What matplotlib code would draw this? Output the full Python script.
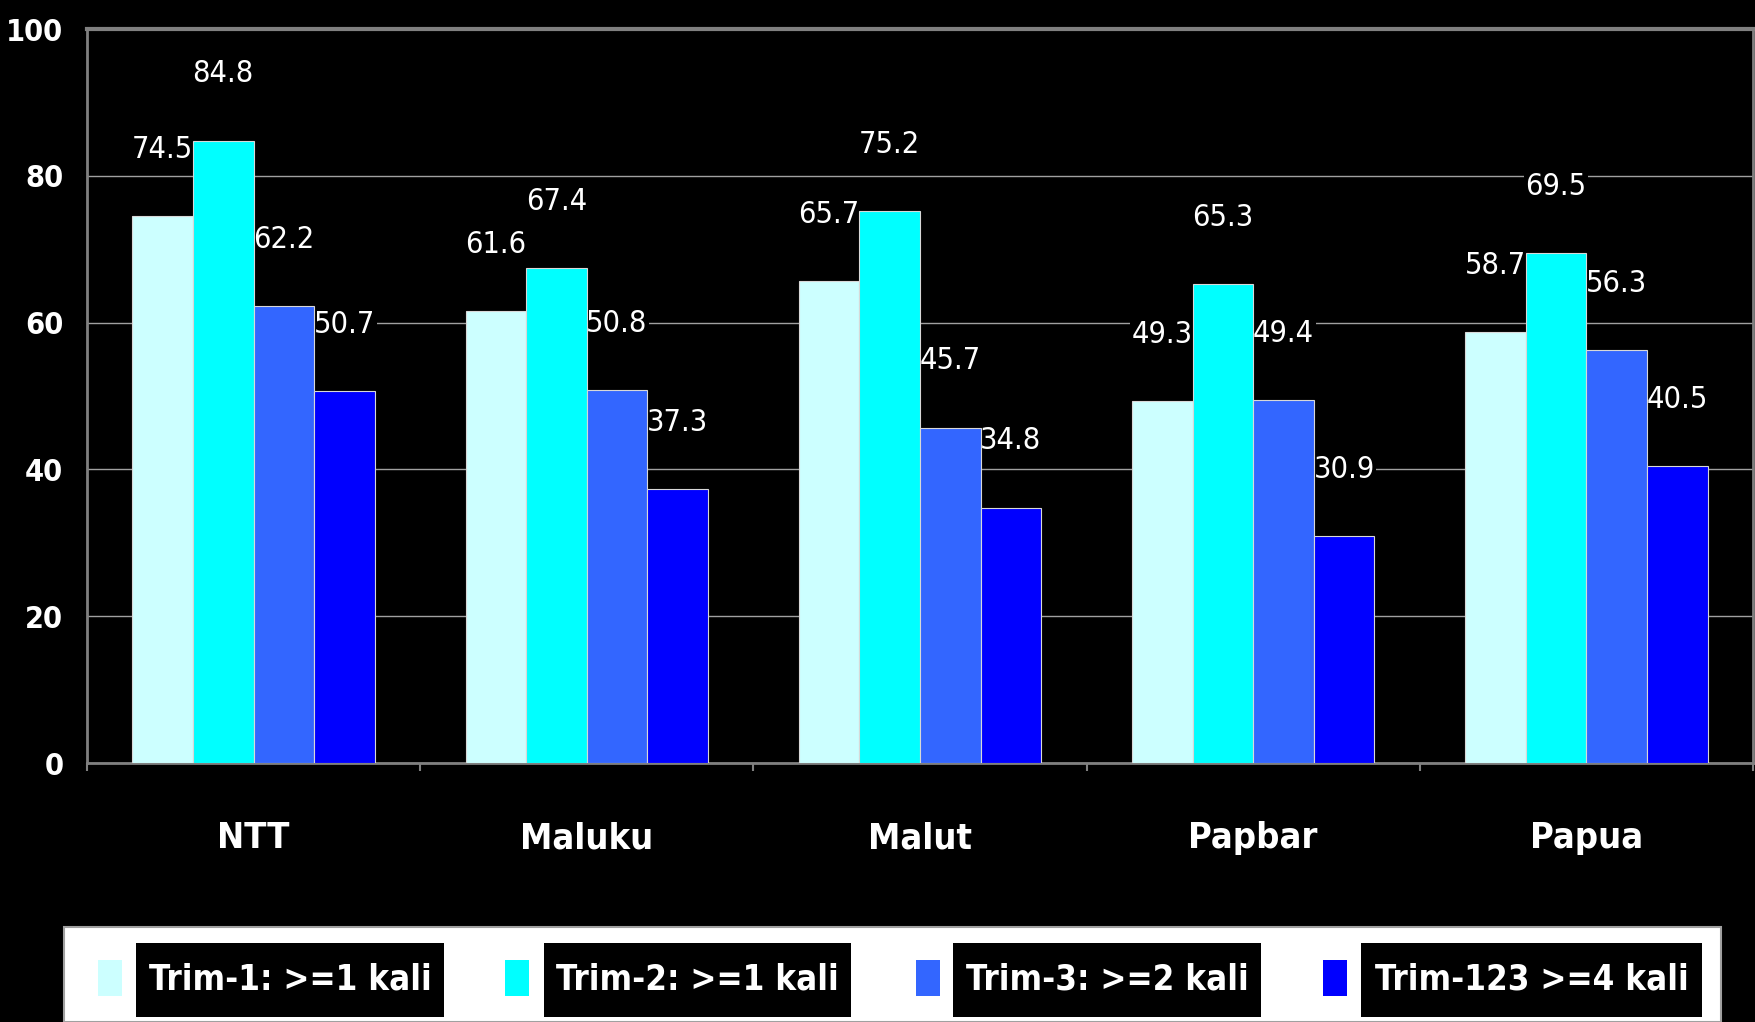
import matplotlib.pyplot as plt
import numpy as np
from matplotlib.patches import Rectangle

# ANC coverage per province (%)
provinces = ['NTT', 'Maluku', 'Malut', 'Papbar', 'Papua']
series_names = ['Trim-1: >=1 kali', 'Trim-2: >=1 kali', 'Trim-3: >=2 kali', 'Trim-123 >=4 kali']
trim1 = [74.5, 61.6, 65.7, 49.3, 58.7]
trim2 = [84.8, 67.4, 75.2, 65.3, 69.5]
trim3 = [62.2, 50.8, 45.7, 49.4, 56.3]
trim123 = [50.7, 37.3, 34.8, 30.9, 40.5]
colors = ['#CCFFFF', '#00FFFF', '#3366FF', '#0000FF']
y_ticks = [0, 20, 40, 60, 80, 100]

# narrow look of the original: DejaVu Sans Condensed
plt.rcParams['font.family'] = ['DejaVu Sans']
plt.rcParams['font.stretch'] = 'condensed'

fig = plt.figure(figsize=(17.56, 10.22), dpi=100, facecolor='black')
ax = fig.add_axes([0.0495, 0.2534, 0.9488, 0.7182])
ax.set_facecolor('black')

x = np.arange(len(provinces))
w = 0.1818
all_series = [trim1, trim2, trim3, trim123]
for i, (vals, c) in enumerate(zip(all_series, colors)):
    pos = x + (i - 1.5) * w
    bars = ax.bar(pos, vals, w, color=c, edgecolor='#D8D8D8', linewidth=0.8, zorder=3)
    for b, v in zip(bars, vals):
        ax.annotate(f'{v}', (b.get_x() + b.get_width() / 2, v), xytext=(0, 48),
                    textcoords='offset points', ha='center', va='center',
                    color='white', fontsize=22, fontstretch='condensed', zorder=2,
                    bbox=dict(facecolor='black', edgecolor='none', pad=1))

ax.set_xlim(-0.5, len(provinces) - 0.5)
ax.set_ylim(0, 100)
ax.set_yticks(y_ticks)
ax.set_yticklabels([str(t) for t in y_ticks], fontsize=22, fontweight='bold',
                   fontstretch='condensed', color='white')
ax.tick_params(axis='y', length=0, pad=17)
ax.set_xticks(x)
ax.set_xticklabels(provinces, fontsize=26, fontweight='bold', fontstretch='condensed', color='white')
ax.tick_params(axis='x', which='major', length=0, pad=42)
ax.set_xticks(np.arange(len(provinces) + 1) - 0.5, minor=True)
ax.tick_params(axis='x', which='minor', length=6, width=1.5, color='#808080', direction='out')

ax.yaxis.grid(True, color='#A0A0A0', linewidth=1)
ax.set_axisbelow(True)
for side in ['left', 'right', 'bottom']:
    ax.spines[side].set_color('#808080')
    ax.spines[side].set_linewidth(2)
ax.spines['top'].set_color('#808080')
ax.spines['top'].set_linewidth(3)

# legend drawn by hand: white panel, colour squares, black label boxes
W, H = 1756, 1022
fig.patches.append(Rectangle((64 / W, 0), (1721 - 64) / W, 1 - 927 / H, transform=fig.transFigure,
                             facecolor='white', edgecolor='#A0A0A0', linewidth=1.5, zorder=1))
marker_x = [98, 505, 916, 1323]
box_x = [(136, 444), (544, 851), (953, 1261), (1361, 1702)]
for name, c, mx, (bx0, bx1) in zip(series_names, colors, marker_x, box_x):
    fig.patches.append(Rectangle((mx / W, 1 - 996 / H), 24 / W, 36 / H, transform=fig.transFigure,
                                 facecolor=c, edgecolor='none', zorder=2))
    fig.patches.append(Rectangle((bx0 / W, 1 - 1017 / H), (bx1 - bx0) / W, 74 / H,
                                 transform=fig.transFigure, facecolor='black', edgecolor='none', zorder=2))
    fig.text((bx0 + bx1) / 2 / W, 1 - 980 / H, name, ha='center', va='center', color='white',
             fontsize=25, fontweight='bold', fontstretch='condensed', zorder=3)

fig.savefig('out.png', dpi=100, facecolor='black')
